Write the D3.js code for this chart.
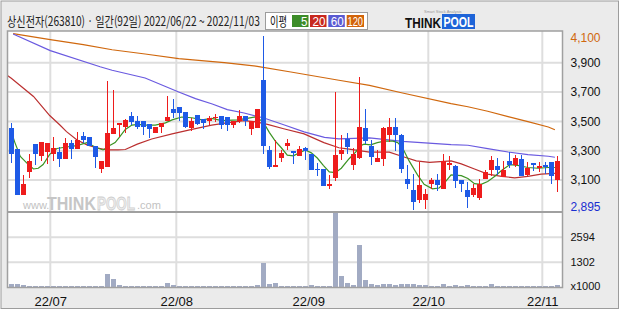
<!DOCTYPE html>
<html>
<head>
<meta charset="utf-8">
<script src="https://cdn.jsdelivr.net/npm/d3@7"></script>
<style>
  body { margin: 0; background: #fff; }
  svg { display: block; }
</style>
</head>
<body>
<div id="chart"></div>
<script>
"use strict";

// ---- chart values ----
const title = "상신전자(263810) · 일간(92일) 2022/06/22 ~ 2022/11/03";
const maNames = ["5", "20", "60", "120"];
const monthTicks = [[7, "22/07"], [28, "22/08"], [50, "22/09"], [70, "22/10"], [89, "22/11"]];
const priceTicks = [3100, 3300, 3500, 3700, 3900];
const priceMax = 4100, priceMin = 2895;
const volTicks = [1302, 2594];
const volMax = 3891;

const opens = [3455,3310,2995,3155,3345,3265,3290,3275,3290,3245,
  3350,3310,3400,3390,3335,3175,3190,3415,3475,3465,
  3540,3500,3500,3485,3420,3465,3505,3585,3595,3565,
  3455,3545,3515,3500,3520,3540,3530,3475,3500,3535,
  3450,3455,3785,3305,3195,3250,3330,3295,3265,3315,
  3280,3175,3175,3065,3115,3275,3380,3200,3250,3455,
  3335,3225,3245,3410,3460,3410,3105,3030,2965,2965,
  3070,3100,3040,3200,3195,3100,3030,2995,2975,3110,
  3170,3195,3120,3230,3205,3240,3135,3215,3180,3205,
  3225,3100];
const highs = [3490,3310,3135,3275,3345,3360,3350,3395,3325,3385,
  3375,3430,3430,3390,3335,3230,3775,3715,3490,3515,
  3565,3540,3500,3485,3460,3490,3675,3650,3595,3565,
  3525,3545,3515,3540,3550,3540,3530,3500,3580,3535,
  3505,3585,4080,3330,3370,3305,3380,3300,3335,3325,
  3280,3215,3175,3135,3700,3405,3420,3320,3800,3585,
  3370,3305,3465,3520,3525,3415,3200,3140,3220,3040,
  3115,3140,3275,3265,3205,3100,3085,3075,3105,3170,
  3265,3250,3230,3290,3270,3270,3225,3215,3225,3220,
  3225,3265];
const lows = [3215,2995,2995,3115,3200,3230,3210,3230,3190,3245,
  3245,3310,3355,3330,3180,3150,3190,3415,3390,3420,
  3475,3450,3410,3385,3420,3420,3505,3520,3505,3455,
  3435,3475,3450,3475,3495,3445,3435,3455,3490,3470,
  3410,3455,3275,3175,3190,3225,3305,3210,3265,3235,
  3170,3125,3060,3040,3090,3235,3280,3170,3245,3345,
  3200,3225,3195,3360,3295,3150,3035,2895,2945,2900,
  3035,3025,3035,3170,3045,3020,2910,2985,2960,3110,
  3125,3135,3120,3185,3190,3125,3125,3160,3155,3140,
  3070,3015];
const closes = [3275,2995,3075,3230,3275,3360,3350,3320,3245,3350,
  3310,3370,3370,3335,3260,3230,3420,3455,3490,3510,
  3495,3465,3465,3450,3460,3490,3530,3560,3560,3465,
  3505,3485,3490,3525,3530,3475,3475,3500,3540,3500,
  3505,3585,3335,3190,3200,3285,3350,3290,3310,3300,
  3170,3170,3060,3070,3270,3305,3325,3275,3460,3365,
  3260,3250,3455,3460,3410,3175,3070,2950,3065,3005,
  3100,3065,3230,3215,3095,3075,2985,3045,3075,3155,
  3235,3170,3170,3205,3250,3125,3185,3200,3195,3190,
  3130,3230];
// volume, x1000 shares
const volumes = [181,181,129,70,70,70,70,70,70,70,
  70,70,70,70,70,70,713,455,129,70,
  70,70,70,70,70,70,248,129,70,70,
  70,70,70,70,70,70,70,70,70,70,
  70,129,1282,181,248,70,70,70,70,70,
  129,70,70,70,3850,595,233,129,2197,388,
  181,129,181,181,129,181,181,181,129,129,
  70,70,181,70,129,70,129,70,70,70,
  181,70,70,70,70,70,70,70,70,70,
  70,129];

// moving averages, [day index, price]
const ma5 = [[0,3430],[0.6,3355],[1.5,3260],[2.6,3215],[3.7,3175],[4.5,3180],[5.3,3205],[6.4,3275],
  [7.6,3315],[9.2,3325],[10.9,3335],[12.6,3355],[14.2,3320],[15.3,3305],[16.4,3335],[17.3,3355],
  [17.9,3385],[19,3445],[20.1,3475],[21.2,3480],[22.3,3475],[24,3475],[25.7,3490],[26.8,3510],
  [28.4,3530],[30.1,3525],[31.8,3510],[33.4,3520],[35.1,3505],[37.7,3510],[39.3,3520],[40.7,3530],
  [41,3525],[42,3495],[43,3425],[44,3365],[45,3320],[46,3270],[47,3265],[48,3285],[49,3305],
  [50,3285],[51,3250],[52,3200],[53,3155],[54,3150],[55,3180],[56.3,3245],[57.5,3295],[58,3330],
  [58.8,3345],[59.9,3340],[61,3355],[62.2,3365],[63.6,3365],[64.4,3355],[65.2,3320],[66.3,3230],
  [67.7,3135],[68.8,3070],[70.2,3040],[71.3,3045],[72.2,3080],[73.3,3135],[75,3130],[76.1,3110],
  [77.2,3075],[78.3,3070],[79.4,3090],[80.6,3125],[81.7,3165],[83.1,3205],[84.4,3200],[86.1,3185],
  [87.8,3180],[89.5,3185],[90.6,3185]];
const ma20 = [[-0.7,3815],[0,3795],[3.7,3670],[6.4,3540],[8.1,3475],[9.2,3430],[10.9,3375],[12.6,3340],
  [14.2,3320],[15.9,3305],[17.8,3305],[19,3308],[21,3345],[23.4,3380],[26.8,3415],[30.1,3445],
  [33.4,3475],[35.9,3490],[38.8,3505],[41,3495],[42.7,3480],[45.4,3450],[48.8,3415],[52.1,3355],
  [54.6,3320],[56.3,3310],[59.7,3290],[63,3290],[65.2,3260],[67.5,3230],[69.7,3220],[73.3,3230],
  [75,3210],[77.2,3175],[79.4,3140],[81.7,3125],[83.9,3115],[86.1,3125],[88.3,3140],[90.6,3145]];
const ma60 = [[0.3,4097],[6.5,3983],[14.8,3873],[16.8,3849],[22.3,3796],[27.9,3701],[30.7,3655],
  [33.5,3619],[36,3580],[38.8,3557],[42.1,3523],[45.4,3477],[48.8,3428],[52.2,3391],[54.6,3380],
  [59.7,3387],[65.2,3364],[73.3,3341],[76.1,3337],[79.4,3314],[82.8,3291],[86.1,3273],[89.5,3262],
  [90.6,3255]];
const ma120 = [[0.3,4099],[6.5,4058],[12,4024],[16.8,3989],[22.3,3960],[27.9,3928],[35.5,3901],
  [41,3876],[46.6,3837],[54.6,3781],[59.7,3746],[65.2,3694],[73.3,3621],[76.1,3600],[79.4,3569],
  [82.8,3532],[86.1,3498],[89.5,3462],[90.6,3443]];

// ---- layout ----
const W = 620, H = 310;
const plot = { left: 7.5, right: 562.5, top: 31, split: 212, bottom: 287.5 };
const colors = {
  up: "#ee1c1c", down: "#1e5ae6", vol: "#a2abc3",
  ma: ["#3c9424", "#bb3030", "#6a5ae0", "#d0680e"],
  box: ["#3c8c28", "#c8281e", "#5a5ad2", "#d2640a"]
};
const days = d3.range(opens.length);
const sans = "'Liberation Sans', Arial, sans-serif";
const kr = "'Noto Sans CJK KR', sans-serif";

const x = d3.scaleLinear().domain([-0.5, 91.5]).range([8.3, 560.3]);
const y = d3.scaleLinear().domain([priceMin, priceMax]).range([210, 33.5]);
const yv = d3.scaleLinear().domain([0, volMax]).range([plot.bottom, 212.3]);

const svg = d3.select("#chart").append("svg")
  .attr("width", W).attr("height", H)
  .style("font-family", sans);

// squeeze a text horizontally so it takes the given width (the source font is narrow)
function fitText(parent, tx, ty, width, str, attrs) {
  const t = parent.append("text").text(str);
  Object.entries(attrs).forEach(([k, v]) => t.attr(k, v));
  const w = t.node().getComputedTextLength();
  t.attr("transform", `translate(${tx},${ty}) scale(${Math.min(1, width / w)},1)`);
  return t;
}

// frame and panels
svg.append("rect").attr("x", 1).attr("y", 1).attr("width", W - 2.5).attr("height", H - 2.5)
  .attr("fill", "#ebebeb").attr("stroke", "#9c9c9c");
svg.append("rect").attr("x", plot.left).attr("y", plot.top)
  .attr("width", plot.right - plot.left).attr("height", plot.bottom - plot.top)
  .attr("fill", "#fff");

svg.append("defs").append("clipPath").attr("id", "clip")
  .append("rect").attr("x", plot.left).attr("y", plot.top)
  .attr("width", plot.right - plot.left).attr("height", plot.split - plot.top);

// grid
const grid = svg.append("g").attr("stroke", "#dedede").attr("stroke-width", 2);
grid.selectAll(".hp").data(priceTicks).join("line")
  .attr("x1", plot.left).attr("x2", plot.right)
  .attr("y1", d => y(d)).attr("y2", d => y(d));
grid.selectAll(".hv").data(volTicks).join("line")
  .attr("x1", plot.left).attr("x2", plot.right)
  .attr("y1", d => yv(d)).attr("y2", d => yv(d));
grid.selectAll(".vx").data(monthTicks).join("line")
  .attr("x1", d => x(d[0] - 0.5)).attr("x2", d => x(d[0] - 0.5))
  .attr("y1", plot.top).attr("y2", plot.bottom);

// watermark
const wm = svg.append("g");
wm.append("text").attr("x", 23).attr("y", 209).attr("font-size", 11)
  .attr("fill", "#c2c2c2").text("www.");
fitText(wm, 47, 209.5, 49, "THINK",
  { "font-size": 18, "font-weight": "bold", fill: "#c6c6c6" });
fitText(wm, 97, 209.5, 38, "POOL",
  { "font-size": 18, "font-weight": "bold", fill: "#ececec", stroke: "#cfcfcf", "stroke-width": 0.8 });
wm.append("text").attr("x", 137).attr("y", 209).attr("font-size", 11)
  .attr("fill", "#c2c2c2").text(".com");

// volume bars
svg.append("g").attr("fill", colors.vol).attr("shape-rendering", "crispEdges")
  .selectAll("rect").data(days).join("rect")
  .attr("x", i => Math.round(x(i) - 2.5)).attr("width", 5)
  .attr("y", i => yv(volumes[i]))
  .attr("height", i => yv(0) - yv(volumes[i]));

// moving averages
const line = d3.line().x(d => x(d[0])).y(d => y(d[1]));
const maG = svg.append("g").attr("clip-path", "url(#clip)").attr("fill", "none")
  .attr("stroke-width", 1.2);
[ma120, ma60, ma20, ma5].forEach((s, k) => {
  maG.append("path").datum(s).attr("d", line).attr("stroke", colors.ma[3 - k]);
});

// candles
const candle = svg.append("g").attr("shape-rendering", "crispEdges")
  .selectAll("g").data(days).join("g")
  .attr("fill", i => closes[i] >= opens[i] ? colors.up : colors.down);
candle.append("rect")
  .attr("x", i => Math.floor(x(i))).attr("width", 1)
  .attr("y", i => y(highs[i]))
  .attr("height", i => Math.max(1, y(lows[i]) - y(highs[i])));
candle.append("rect")
  .attr("x", i => Math.round(x(i) - 2.5)).attr("width", 5)
  .attr("y", i => y(Math.max(opens[i], closes[i])))
  .attr("height", i => Math.max(1.5, Math.abs(y(opens[i]) - y(closes[i]))));

// borders
const bd = svg.append("g").attr("stroke", "#a0a0a0").attr("fill", "none");
bd.append("rect").attr("x", plot.left).attr("y", plot.top)
  .attr("width", plot.right - plot.left).attr("height", plot.bottom - plot.top)
  .attr("stroke-width", 1.5);
bd.append("line").attr("x1", plot.left).attr("x2", plot.right)
  .attr("y1", plot.split).attr("y2", plot.split).attr("stroke-width", 2);

// price axis
const pAxis = svg.append("g").attr("transform", `translate(${plot.right},0)`)
  .call(d3.axisRight(y).tickValues(priceTicks).tickSize(0).tickPadding(8)
    .tickFormat(d3.format(",")));
pAxis.select(".domain").remove();
pAxis.selectAll("text").attr("font-size", 12).attr("fill", "#111").attr("font-family", sans);
svg.append("text").attr("x", plot.right + 8).attr("y", Math.max(y(priceMax), 38))
  .attr("dy", "0.32em").attr("font-size", 12).attr("fill", colors.ma[3])
  .text(d3.format(",")(priceMax));
svg.append("text").attr("x", plot.right + 8).attr("y", Math.min(y(priceMin), 207))
  .attr("dy", "0.32em").attr("font-size", 12).attr("fill", "#1a2fd0")
  .text(d3.format(",")(priceMin));

// volume axis
const vAxis = svg.append("g").attr("transform", `translate(${plot.right},0)`)
  .call(d3.axisRight(yv).tickValues(volTicks).tickSize(0).tickPadding(8)
    .tickFormat(d3.format("d")));
vAxis.select(".domain").remove();
vAxis.selectAll("text").attr("font-size", 11).attr("fill", "#111").attr("font-family", sans);
svg.append("text").attr("x", plot.right + 8).attr("y", 286).attr("dy", "0.32em")
  .attr("font-size", 11).attr("fill", "#111").text("x1000");

// date axis
const xAxis = svg.append("g").attr("transform", `translate(0,${plot.bottom})`)
  .call(d3.axisBottom(x).tickValues(monthTicks.map(d => d[0] - 0.5)).tickSize(0).tickPadding(9)
    .tickFormat((d, k) => monthTicks[k][1]));
xAxis.select(".domain").remove();
xAxis.selectAll("text").attr("font-size", 13).attr("fill", "#111").attr("font-family", sans);

// title
fitText(svg, 7, 26, 253, title, { "font-family": kr, "font-size": 13, fill: "#222" });

// legend
const lg = svg.append("g");
lg.append("rect").attr("x", 265.5).attr("y", 12.5).attr("width", 102).attr("height", 17)
  .attr("fill", "#fff").attr("stroke", "#9c9c9c");
fitText(lg, 270, 26, 17, "이평", { "font-family": kr, "font-size": 13, fill: "#111" });
const boxX = [292, 310, 328.3, 346.7], boxW = [16.5, 16.5, 16.5, 17.3];
maNames.forEach((d, k) => {
  lg.append("rect").attr("x", boxX[k]).attr("y", 15)
    .attr("width", boxW[k]).attr("height", 12).attr("fill", colors.box[k]);
  const tw = d.length > 2 ? 15.5 : d.length * 6.5;
  fitText(lg, boxX[k] + boxW[k] - 1 - tw, 25.5, tw, d, { "font-size": 12, fill: "#fff" });
});

// logo
const logo = svg.append("g");
logo.append("text").attr("x", 424).attr("y", 13).attr("font-size", 4)
  .attr("fill", "#999").text("Smart Stock Analysis");
fitText(logo, 405, 27.5, 36, "THINK", { "font-size": 15, "font-weight": "bold", fill: "#111" });
logo.append("rect").attr("x", 442).attr("y", 14).attr("width", 33).attr("height", 15)
  .attr("fill", "#1e64d8");
fitText(logo, 443.5, 27, 30, "POOL", { "font-size": 14, "font-weight": "bold", fill: "#fff" });
</script>
</body>
</html>
